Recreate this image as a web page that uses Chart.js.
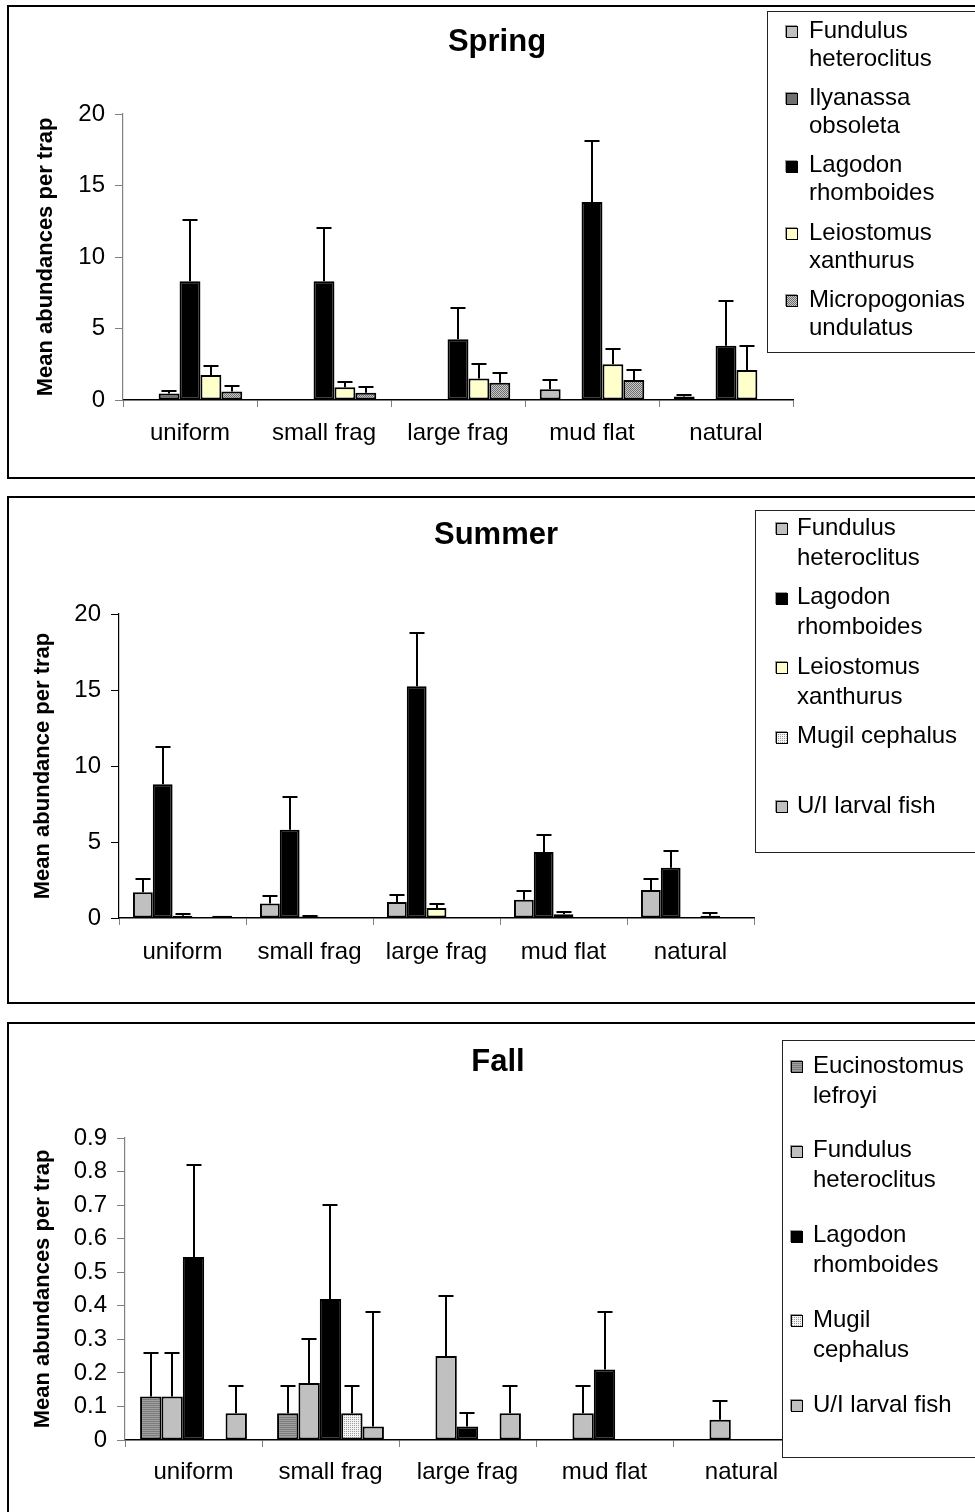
<!DOCTYPE html>
<html>
<head>
<meta charset="utf-8">
<title>Mean abundances per trap by season</title>
<script src="https://cdn.jsdelivr.net/npm/chart.js@4/dist/chart.umd.min.js"></script>
<style>
  html, body { margin: 0; padding: 0; background: #fff; }
  body { width: 975px; height: 1512px; overflow: hidden; position: relative; }
  .frame { position: absolute; left: 7px; width: 1000px; border: 2px solid #000; box-sizing: border-box; }
  canvas { position: absolute; left: 0; }
</style>
</head>
<body>
<div class="frame" style="top:5px;height:474px"></div>
<div class="frame" style="top:496px;height:508px"></div>
<div class="frame" style="top:1022px;height:600px"></div>
<canvas id="spring" width="975" height="488" style="top:0px"></canvas>
<canvas id="summer" width="975" height="525" style="top:488px"></canvas>
<canvas id="fall" width="975" height="499" style="top:1013px"></canvas>

<script>
// ---- data ----
const sites = ['uniform', 'small frag', 'large frag', 'mud flat', 'natural'];

// Spring
const springSpecies = [
  ['Fundulus', 'heteroclitus'],
  ['Ilyanassa', 'obsoleta'],
  ['Lagodon', 'rhomboides'],
  ['Leiostomus', 'xanthurus'],
  ['Micropogonias', 'undulatus']
];
const springMeans = [
  [0, 0, 0, 0.75, 0.25],
  [0.45, 0, 0, 0, 0],
  [8.3, 8.3, 4.25, 13.85, 3.8],
  [1.75, 0.9, 1.5, 2.5, 2.1],
  [0.6, 0.5, 1.2, 1.4, 0]
];
const springErrors = [
  [0, 0, 0, 0.65, 0.1],
  [0.17, 0, 0, 0, 0],
  [4.3, 3.7, 2.15, 4.25, 3.1],
  [0.65, 0.35, 1.0, 1.1, 1.65],
  [0.4, 0.4, 0.7, 0.7, 0]
];
const springTicks = { max: 20, step: 5 };

// Summer
const summerSpecies = [
  ['Fundulus', 'heteroclitus'],
  ['Lagodon', 'rhomboides'],
  ['Leiostomus', 'xanthurus'],
  ['Mugil cephalus'],
  ['U/I larval fish']
];
const summerMeans = [
  [1.7, 0.95, 1.05, 1.2, 1.85],
  [8.8, 5.8, 15.25, 4.35, 3.3],
  [0.15, 0.1, 0.65, 0.25, 0],
  [0, 0, 0, 0, 0.15],
  [0.15, 0, 0, 0, 0]
];
const summerErrors = [
  [0.85, 0.5, 0.45, 0.6, 0.7],
  [2.45, 2.15, 3.5, 1.1, 1.1],
  [0.12, 0.02, 0.25, 0.15, 0],
  [0, 0, 0, 0, 0.2],
  [0, 0, 0, 0, 0]
];
const summerTicks = { max: 20, step: 5 };

// Fall
const fallSpecies = [
  ['Eucinostomus', 'lefroyi'],
  ['Fundulus', 'heteroclitus'],
  ['Lagodon', 'rhomboides'],
  ['Mugil', 'cephalus'],
  ['U/I larval fish']
];
const fallMeans = [
  [0.13, 0.08, 0, 0, 0],
  [0.13, 0.17, 0.25, 0.08, 0.06],
  [0.545, 0.42, 0.04, 0.21, 0],
  [0, 0.08, 0, 0, 0],
  [0.08, 0.04, 0.08, 0, 0]
];
const fallErrors = [
  [0.13, 0.08, 0, 0, 0],
  [0.13, 0.13, 0.18, 0.08, 0.055],
  [0.275, 0.28, 0.04, 0.17, 0],
  [0, 0.08, 0, 0, 0],
  [0.08, 0.34, 0.08, 0, 0]
];
const fallTicks = { max: 0.9, step: 0.1 };

// ---- styling ----
const FONT = '"Liberation Sans", Arial, Helvetica, sans-serif';

function pixelPattern(rows) {
  const c = document.createElement('canvas');
  c.width = rows[0].length; c.height = rows.length;
  const g = c.getContext('2d');
  rows.forEach((row, y) => row.forEach((col, x) => { g.fillStyle = col; g.fillRect(x, y, 1, 1); }));
  return g.createPattern(c, 'repeat');
}

const fills = {
  'Fundulus': '#c0c0c0',
  'Ilyanassa': '#707070',
  'Lagodon': '#000000',
  'Leiostomus': '#ffffcc',
  'Micropogonias': pixelPattern([['#6c6c6c', '#cacaca'], ['#cacaca', '#6c6c6c']]),
  'Mugil': pixelPattern([['#9a9a9a', '#f4f4f4'], ['#f4f4f4', '#f4f4f4']]),
  'U/I': '#c0c0c0',
  'Eucinostomus': pixelPattern([['#7c7c7c', '#7c7c7c'], ['#a0a0a0', '#a0a0a0']])
};
function fillFor(lines) { return fills[lines[0].split(' ')[0]]; }

function buildDatasets(species, means, errors) {
  return species.map((lines, i) => ({
    label: lines.join(' '),
    legendLines: lines,
    data: means[i],
    errors: errors[i],
    backgroundColor: fillFor(lines),
    borderColor: '#000',
    borderWidth: 2,
    borderSkipped: false,
    categoryPercentage: 0.78,
    barPercentage: 1.0
  }));
}

// error bars: upward whisker with a cap, drawn from each bar's top
const errorBars = {
  id: 'errorBars',
  afterDatasetsDraw(chart) {
    const ctx = chart.ctx, y = chart.scales.y;
    ctx.save();
    ctx.strokeStyle = '#000';
    ctx.lineWidth = 2;
    chart.data.datasets.forEach((ds, i) => {
      chart.getDatasetMeta(i).data.forEach((bar, j) => {
        const e = ds.errors[j];
        if (!e) return;
        const top = Math.round(y.getPixelForValue(ds.data[j] + e));
        const x = Math.round(bar.x);
        ctx.beginPath();
        ctx.moveTo(x, bar.y);
        ctx.lineTo(x, top);
        ctx.moveTo(x - 7.5, top);
        ctx.lineTo(x + 7.5, top);
        ctx.stroke();
      });
    });
    ctx.restore();
  }
};

// panel heading and boxed legend with wrapped species names
const panelDecor = {
  id: 'panelDecor',
  afterDraw(chart, args, o) {
    const ctx = chart.ctx;
    ctx.save();
    ctx.fillStyle = '#000';
    ctx.textAlign = 'center';
    ctx.textBaseline = 'middle';
    ctx.font = 'bold 31px ' + FONT;
    ctx.fillText(o.title, o.titleX, o.titleY);

    ctx.fillStyle = '#fff';
    ctx.fillRect(o.boxX, o.boxY, 400, o.boxH);
    ctx.strokeStyle = '#222';
    ctx.lineWidth = 1;
    ctx.strokeRect(o.boxX + 0.5, o.boxY + 0.5, 400, o.boxH);

    ctx.textAlign = 'left';
    ctx.font = '24px ' + FONT;
    chart.data.datasets.forEach((ds, i) => {
      const cy = o.firstY + i * o.itemGap;
      const mx = o.markX, my = Math.round(cy - 5);
      ctx.fillStyle = '#9a9a9a';
      ctx.fillRect(mx - 1, my - 1, 12, 12);
      ctx.fillStyle = ds.backgroundColor;
      ctx.fillRect(mx, my, 12, 12);
      ctx.strokeStyle = '#000';
      ctx.lineWidth = 1;
      ctx.strokeRect(mx + 0.5, my + 0.5, 11, 11);
      ctx.fillStyle = '#000';
      ds.legendLines.forEach((t, k) => ctx.fillText(t, o.textX, cy + k * o.lineGap));
    });
    ctx.restore();
  }
};

function makeChart(id, species, means, errors, ticks, cfg) {
  return new Chart(document.getElementById(id), {
    type: 'bar',
    data: { labels: sites, datasets: buildDatasets(species, means, errors) },
    plugins: [errorBars, panelDecor],
    options: {
      responsive: false,
      animation: false,
      devicePixelRatio: 1,
      layout: { padding: { left: 0, right: cfg.padRight, top: cfg.padTop, bottom: 0 } },
      plugins: {
        legend: { display: false },
        tooltip: { enabled: false },
        title: { display: false },
        panelDecor: cfg.decor
      },
      scales: {
        x: {
          grid: { offset: true, drawOnChartArea: false, drawTicks: true, tickLength: 7, color: '#808080', lineWidth: 1 },
          border: { display: true, color: '#000', width: 1.5 },
          ticks: { color: '#000', font: { family: FONT, size: 24 }, padding: cfg.xPad, maxRotation: 0, autoSkip: false },
          afterFit(s) { s.height = cfg.xHeight; }
        },
        y: {
          min: 0,
          max: ticks.max,
          grid: { drawOnChartArea: false, drawTicks: true, tickLength: 8, color: cfg.yColor, lineWidth: 1 },
          border: { display: true, color: cfg.yColor, width: 1.2 },
          ticks: { stepSize: ticks.step, color: '#000', font: { family: FONT, size: 24 }, padding: 10 },
          title: {
            display: true,
            text: cfg.yTitle,
            color: '#000',
            font: { family: FONT, size: 22, weight: 'bold' },
            padding: { top: cfg.yTitlePad, bottom: 0 }
          },
          afterFit(s) { s.width = cfg.yWidth; }
        }
      }
    }
  });
}

makeChart('spring', springSpecies, springMeans, springErrors, springTicks, {
  padRight: 182, padTop: 114, xHeight: 88, xPad: 12, yWidth: 123, yColor: '#808080',
  yTitle: 'Mean abundances per trap', yTitlePad: 32.8,
  decor: { title: 'Spring', titleX: 497, titleY: 42, boxX: 767, boxY: 11, boxH: 341,
           firstY: 31, itemGap: 67.3, lineGap: 28, textX: 809, markX: 786 }
});

makeChart('summer', summerSpecies, summerMeans, summerErrors, summerTicks, {
  padRight: 221, padTop: 126, xHeight: 95, xPad: 13, yWidth: 119, yColor: '#000',
  yTitle: 'Mean abundance per trap', yTitlePad: 29.8,
  decor: { title: 'Summer', titleX: 496, titleY: 47, boxX: 755, boxY: 22, boxH: 342,
           firstY: 40, itemGap: 69.5, lineGap: 30, textX: 797, markX: 776 }
});

makeChart('fall', fallSpecies, fallMeans, fallErrors, fallTicks, {
  padRight: 165, padTop: 125, xHeight: 72, xPad: 11, yWidth: 125, yColor: '#808080',
  yTitle: 'Mean abundances per trap', yTitlePad: 29.8,
  decor: { title: 'Fall', titleX: 498, titleY: 49, boxX: 782, boxY: 27, boxH: 417,
           firstY: 53, itemGap: 84.8, lineGap: 30, textX: 813, markX: 791 }
});
</script>
</body>
</html>
